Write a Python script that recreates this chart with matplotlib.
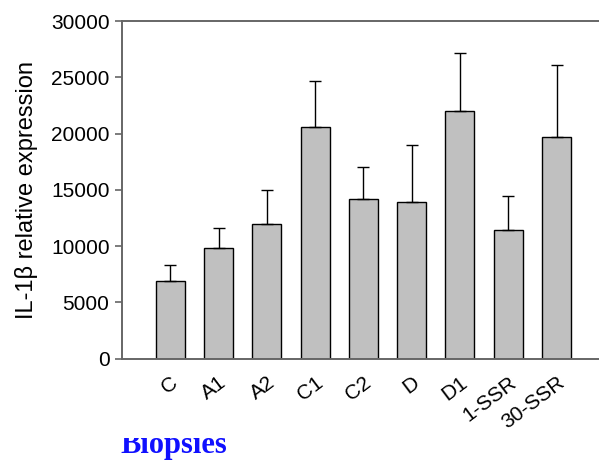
import matplotlib
matplotlib.use("Agg")
import matplotlib.pyplot as plt
from matplotlib.patches import Rectangle

groups = ["C", "A1", "A2", "C1", "C2", "D", "D1", "1-SSR", "30-SSR"]
means = [6900, 9800, 12000, 20600, 14200, 13950, 22000, 11450, 19700]
errors = [1400, 1800, 3000, 4100, 2800, 5050, 5200, 3050, 6350]
y_ticks = [0, 5000, 10000, 15000, 20000, 25000, 30000]

plt.rcParams["font.family"] = ["Liberation Sans", "DejaVu Sans"]

fig = plt.figure(figsize=(5.99, 4.62), dpi=100)
ax = fig.add_axes([0.2037, 0.2234, 0.7963, 0.7311])

x = list(range(len(groups)))
ax.bar(x, means, width=0.6, color="#c0c0c0", edgecolor="black", linewidth=1.0, zorder=2)
ax.errorbar(x, means, yerr=[[0] * len(errors), errors], fmt="none",
            ecolor="black", elinewidth=1.0, capsize=4, capthick=1.0, zorder=3)

ax.set_xlim(-1, 8.88)
ax.set_ylim(0, 30000)
ax.set_yticks(y_ticks)
ax.set_yticklabels([str(v) for v in y_ticks], fontsize=15)
ax.set_xticks(x)
ax.set_xticklabels(groups, fontsize=15, rotation=37, ha="right", va="top",
                   rotation_mode="anchor")
ax.tick_params(axis="x", length=0, pad=10)
ax.tick_params(axis="y", direction="out", length=5, width=1.2, color="#666666", pad=4)
ax.set_ylabel("IL-1\u03b2 relative expression", fontsize=17, labelpad=9)

for side in ("left", "top", "bottom"):
    ax.spines[side].set_color("#666666")
    ax.spines[side].set_linewidth(1.4)
ax.spines["right"].set_visible(False)

# Caption, with its upper part masked off
fig.text(120 / 599, 1 - 453 / 462, "Biopsies", family=["Liberation Serif"],
         fontweight="bold", fontsize=22, color="#1010ff", ha="left", va="baseline")
fig.patches.append(Rectangle((110 / 599, 1 - 437.5 / 462), 130 / 599, 14 / 462,
                             transform=fig.transFigure, facecolor="white",
                             edgecolor="none", zorder=10))

fig.savefig("out.png", dpi=100)
